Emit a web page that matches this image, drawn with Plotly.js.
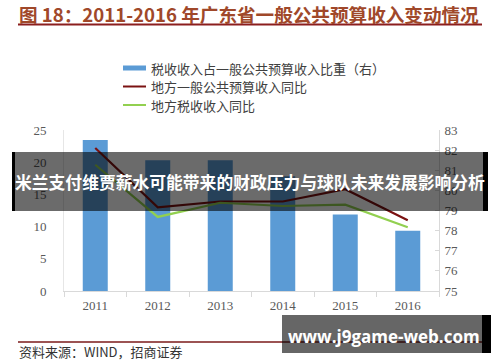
<!DOCTYPE html>
<html>
<head>
<meta charset="utf-8">
<script src="https://cdn.plot.ly/plotly-3.0.1.min.js"></script>
<style>html,body{margin:0;padding:0;background:#fff;}#chart{width:500px;height:362px;}</style>
</head>
<body>
<div id="chart"></div>
<script>
const years = ['2011', '2012', '2013', '2014', '2015', '2016'];
const taxShare = [82.5, 81.5, 81.5, 80.7, 78.8, 78.0];      // right axis, bars
const budgetYoY = [22.2, 13.0, 13.9, 13.9, 15.8, 11.0];     // left axis, dark red
const taxYoY = [19.6, 11.5, 13.7, 13.2, 13.4, 9.9];         // left axis, green
const seriesNames = ['税收收入占一般公共预算收入比重（右）', '地方一般公共预算收入同比', '地方税收收入同比'];
const leftTicks = [0, 5, 10, 15, 20, 25];
const rightTicks = [75, 76, 77, 78, 79, 80, 81, 82, 83];

const W = 500, H = 362;
const M = {l: 64, r: 61, t: 130, b: 71};
const PW = W - M.l - M.r, PH = H - M.t - M.b;
const px = x => (x - M.l) / PW;
const py = y => (H - M.b - y) / PH;

const blue = '#5B9BD5', red = '#7B1212', green = '#92D050';
const tickFont = {family: 'Liberation Serif, DejaVu Serif, serif', size: 13, color: '#595959'};
const cjk = 'Noto Sans CJK SC, sans-serif';

const traces = [
  {type: 'bar', x: years, y: taxShare, name: seriesNames[0], yaxis: 'y', marker: {color: blue}, hoverinfo: 'none'},
  {type: 'scatter', mode: 'lines', x: years, y: budgetYoY, name: seriesNames[1], yaxis: 'y2', line: {color: red, width: 2.2}, hoverinfo: 'none'},
  {type: 'scatter', mode: 'lines', x: years, y: taxYoY, name: seriesNames[2], yaxis: 'y2', line: {color: green, width: 2.2}, hoverinfo: 'none'}
];

const shapes = [
  {type: 'line', xref: 'paper', yref: 'paper', x0: px(18), x1: px(482), y0: py(24.5), y1: py(24.5), line: {color: '#8B1E1E', width: 2}},
  {type: 'line', xref: 'paper', yref: 'paper', x0: px(123), x1: px(146), y0: py(68), y1: py(68), line: {color: blue, width: 5}},
  {type: 'line', xref: 'paper', yref: 'paper', x0: px(123), x1: px(146), y0: py(86.5), y1: py(86.5), line: {color: red, width: 2}},
  {type: 'line', xref: 'paper', yref: 'paper', x0: px(123), x1: px(146), y0: py(105), y1: py(105), line: {color: green, width: 2}},
  {type: 'line', xref: 'paper', yref: 'paper', x0: px(18), x1: px(482), y0: py(342), y1: py(342), line: {color: '#7B1A1A', width: 1.5}},
  {type: 'rect', xref: 'paper', yref: 'paper', layer: 'above', x0: px(15), x1: px(483), y0: py(211), y1: py(152), fillcolor: 'rgba(0,0,0,0.58)', line: {width: 0}},
  {type: 'rect', xref: 'paper', yref: 'paper', layer: 'above', x0: px(12), x1: px(15), y0: py(211), y1: py(152), fillcolor: '#000', line: {width: 0}},
  {type: 'rect', xref: 'paper', yref: 'paper', layer: 'above', x0: px(483), x1: px(488), y0: py(211), y1: py(152), fillcolor: '#000', line: {width: 0}},
  {type: 'rect', xref: 'paper', yref: 'paper', layer: 'above', x0: px(282), x1: px(482), y0: py(353), y1: py(315), fillcolor: 'rgba(0,0,0,0.6)', line: {width: 0}},
  {type: 'rect', xref: 'paper', yref: 'paper', layer: 'above', x0: px(482), x1: px(491), y0: py(353), y1: py(315), fillcolor: '#000', line: {width: 0}}
];

const annotations = [
  {text: '<b>图 18：2011-2016 年广东省一般公共预算收入变动情况</b>', xref: 'paper', yref: 'paper', x: px(18), y: py(13.5), xanchor: 'left', yanchor: 'middle', borderpad: 0, showarrow: false, font: {family: cjk, size: 18.6, color: '#A0482A'}},
  {text: seriesNames[0], xref: 'paper', yref: 'paper', x: px(149), y: py(68), xanchor: 'left', yanchor: 'middle', showarrow: false, font: {family: cjk, size: 13, color: '#404040'}},
  {text: seriesNames[1], xref: 'paper', yref: 'paper', x: px(149), y: py(86.5), xanchor: 'left', yanchor: 'middle', showarrow: false, font: {family: cjk, size: 13, color: '#404040'}},
  {text: seriesNames[2], xref: 'paper', yref: 'paper', x: px(149), y: py(105), xanchor: 'left', yanchor: 'middle', showarrow: false, font: {family: cjk, size: 13, color: '#404040'}},
  {text: '资料来源：WIND，招商证券', xref: 'paper', yref: 'paper', x: px(17), y: py(351), xanchor: 'left', yanchor: 'middle', showarrow: false, font: {family: cjk, size: 13, color: '#333333'}},
  {text: '<b>米兰支付维贾薪水可能带来的财政压力与球队未来发展影响分析</b>', xref: 'paper', yref: 'paper', x: px(250), y: py(182), xanchor: 'center', yanchor: 'middle', showarrow: false, font: {family: cjk, size: 16.8, color: '#ffffff'}},
  {text: '<b>www.j9game-web.com</b>', xref: 'paper', yref: 'paper', x: px(384), y: py(336), xanchor: 'center', yanchor: 'middle', showarrow: false, font: {family: 'Open Sans, sans-serif', size: 17, color: '#ffffff'}}
];

const layout = {
  width: W, height: H,
  margin: M,
  paper_bgcolor: '#ffffff', plot_bgcolor: '#ffffff',
  showlegend: false,
  bargap: 0.6,
  xaxis: {
    type: 'category', showgrid: false, zeroline: false,
    showline: true, linecolor: '#D9D9D9', linewidth: 1,
    ticks: 'outside', tickson: 'boundaries', ticklen: 5, tickcolor: '#D9D9D9',
    tickfont: tickFont, ticklabelstandoff: 2
  },
  yaxis: {
    side: 'right', range: [75, 83], tickvals: rightTicks,
    showgrid: false, zeroline: false,
    showline: true, linecolor: '#D9D9D9', linewidth: 1,
    ticks: 'inside', ticklen: 4, tickcolor: '#D9D9D9',
    tickfont: tickFont, ticklabelstandoff: 2
  },
  yaxis2: {
    side: 'left', overlaying: 'y', range: [0, 25], tickvals: leftTicks,
    showgrid: false, zeroline: false,
    showline: true, linecolor: '#E6E6E6', linewidth: 1,
    ticks: '', tickfont: tickFont, ticklabelstandoff: 14
  },
  shapes: shapes,
  annotations: annotations
};

Plotly.newPlot('chart', traces, layout, {staticPlot: true, displayModeBar: false});
</script>
</body>
</html>
